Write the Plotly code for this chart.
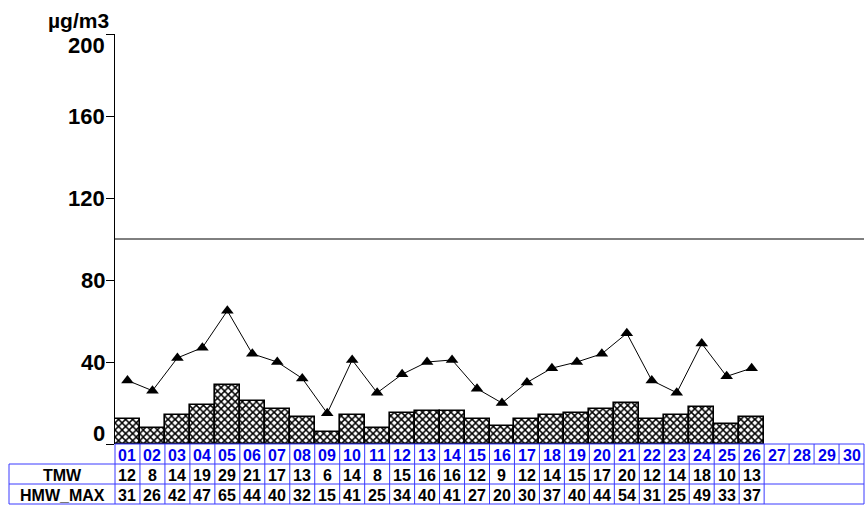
import plotly.graph_objects as go

# ---- data ----
days = [f"{i:02d}" for i in range(1, 31)]
tmw = [12, 8, 14, 19, 29, 21, 17, 13, 6, 14, 8, 15, 16, 16, 12, 9, 12, 14, 15, 17, 20, 12, 14, 18, 10, 13]
hmw_max = [31, 26, 42, 47, 65, 44, 40, 32, 15, 41, 25, 34, 40, 41, 27, 20, 30, 37, 40, 44, 54, 31, 25, 49, 33, 37]
row_labels = ["TMW", "HMW_MAX"]
y_ticks = [0, 40, 80, 120, 160, 200]
limit_value = 100
unit_label = "µg/m3"

# ---- layout geometry (body margin removed by post_script) ----
W, H = 865, 505
L, R, T, B = 115, 1, 34, 505 - 444
PW, PH = W - L - R, H - T - B
FONT = "Liberation Sans, Arial, sans-serif"
LINE_BLUE = "#3a3aff"
TEXT_BLUE = "#0000ee"


def py(pix):
    """window pixel y (from top) -> paper y"""
    return (H - B - pix) / PH


def px(pix):
    """window pixel x (from left) -> paper x"""
    return (pix - L) / PW


ncol = len(days)
xs_days = list(range(1, ncol + 1))
xs_data = list(range(1, len(tmw) + 1))

fig = go.Figure()
fig.add_trace(go.Bar(
    x=xs_data, y=tmw, width=1,
    marker=dict(color="white", line=dict(color="black", width=1.6),
                pattern=dict(shape="x", fgcolor="black", bgcolor="white",
                             size=5, solidity=0.5, fillmode="replace")),
    showlegend=False, hoverinfo="skip"))
fig.add_trace(go.Scatter(
    x=xs_data, y=hmw_max, mode="lines+markers",
    line=dict(color="black", width=1),
    marker=dict(symbol="triangle-up", size=11, color="black"),
    showlegend=False, cliponaxis=False))

shapes = []
shapes.append(dict(type="line", xref="paper", yref="y", x0=0, x1=1,
                   y0=limit_value, y1=limit_value, line=dict(color="black", width=1)))

r0, r1, r2, r3 = 444, 464, 484, 504
left_x = px(9)
bl = dict(color=LINE_BLUE, width=1)


def colb(k):
    return k / ncol


shapes.append(dict(type="line", xref="paper", yref="paper", x0=0, x1=1, y0=py(r0), y1=py(r0), line=bl))
for k in range(ncol + 1):
    shapes.append(dict(type="line", xref="paper", yref="paper", x0=colb(k), x1=colb(k),
                       y0=py(r0), y1=py(r1), line=bl))
for r in (r1, r2, r3):
    shapes.append(dict(type="line", xref="paper", yref="paper", x0=left_x, x1=1,
                       y0=py(r), y1=py(r), line=bl))
for xv in [left_x] + [colb(k) for k in range(len(tmw) + 1)] + [1]:
    shapes.append(dict(type="line", xref="paper", yref="paper", x0=xv, x1=xv,
                       y0=py(r1), y1=py(r3), line=bl))

ann = []
tfont = dict(family=FONT, size=16, color="black", weight="bold")
for x, d in zip(xs_days, days):
    ann.append(dict(x=x, y=py((r0 + r1) / 2 + 1), xref="x", yref="paper", text=d, showarrow=False,
                    xanchor="center", yanchor="middle",
                    font=dict(family=FONT, size=16, color=TEXT_BLUE, weight="bold")))
for rowvals, (ra, rb) in ((tmw, (r1, r2)), (hmw_max, (r2, r3))):
    for x, v in zip(xs_data, rowvals):
        ann.append(dict(x=x, y=py((ra + rb) / 2 + 1), xref="x", yref="paper", text=str(v),
                        showarrow=False, xanchor="center", yanchor="middle", font=tfont))
for lab, (ra, rb) in zip(row_labels, ((r1, r2), (r2, r3))):
    ann.append(dict(x=left_x / 2, y=py((ra + rb) / 2 + 1), xref="paper", yref="paper", text=lab,
                    showarrow=False, xanchor="center", yanchor="middle", font=tfont))

yshift = {y_ticks[0]: 11, y_ticks[-1]: -11}
for v in y_ticks:
    ann.append(dict(x=0, y=v, xref="paper", yref="y", text=str(v), showarrow=False,
                    xanchor="right", yanchor="middle", xshift=-8, yshift=yshift.get(v, 0),
                    font=dict(family=FONT, size=22, color="black", weight="bold")))
ann.append(dict(x=0, y=py(21), xref="paper", yref="paper", text=unit_label, showarrow=False,
                xanchor="right", yanchor="middle", xshift=-4,
                font=dict(family=FONT, size=21, color="black", weight="bold")))

fig.update_layout(
    width=W, height=H, margin=dict(l=L, r=R, t=T, b=B),
    paper_bgcolor="white", plot_bgcolor="white",
    bargap=0, shapes=shapes, annotations=ann,
    xaxis=dict(range=[0.5, ncol + 0.5], visible=False, fixedrange=True),
    yaxis=dict(range=[0, 200], showline=True, linecolor="black", linewidth=1, fixedrange=True,
               ticks="outside", ticklen=8, tickcolor="black", tickwidth=1,
               tickvals=y_ticks, showticklabels=False, showgrid=False, zeroline=False),
)

fig.write_html("out.html", config={"displayModeBar": False},
               post_script="document.body.style.margin='0';document.body.style.overflow='hidden';")
